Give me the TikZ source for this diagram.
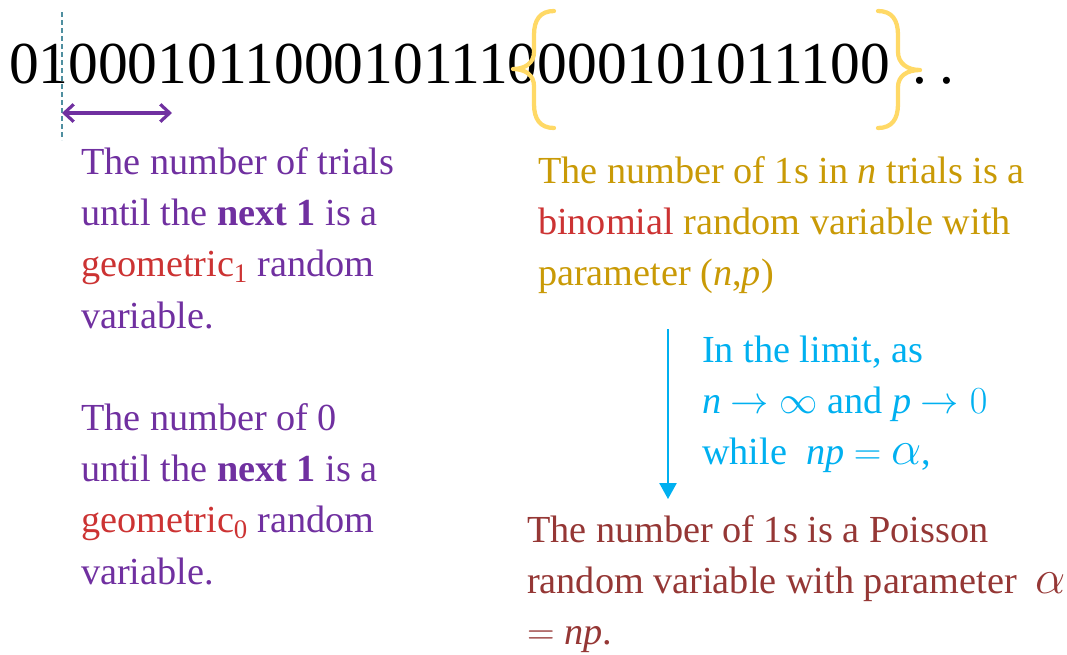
\RequirePackage{fix-cm}
\documentclass[tikz,border=0pt]{standalone}
\usepackage{fontspec}
\setmainfont{Liberation Serif}
\usetikzlibrary{arrows.meta}
\definecolor{cpurple}{HTML}{7030A0}
\definecolor{cred}{HTML}{CC3333}
\definecolor{cgold}{HTML}{C99A06}
\definecolor{ccyan}{HTML}{00B0F0}
\definecolor{cdred}{HTML}{953735}
\definecolor{cyellow}{HTML}{FFD966}
\definecolor{cteal}{HTML}{4F8FA0}
\newcommand\txtblock[1]{\parbox[t]{560pt}{\fontsize{28.7}{38.6}\selectfont\raggedright #1}}
\newcommand\bigalpha{{\fontsize{36}{40}\selectfont$\alpha$}}
\begin{document}
\begin{tikzpicture}[x=0.75pt,y=-0.75pt,
  txt/.style={anchor=base west, inner sep=0pt, outer sep=0pt},
  bracestyle/.style={draw=cyellow, line width=3.2pt, line cap=round, line join=round},
  guide/.style={draw=cteal, line width=0.9pt, dash pattern=on 3.5pt off 2.5pt}]
\useasboundingbox (0,0) rectangle (1067,654);
% binary string
\node[txt, font=\fontsize{44.6}{50}\selectfont] (bits) at (9,83) {010001011000101110000101011100};
\node[txt, font=\fontsize{44.6}{50}\selectfont] (dots) at (912,83) {.\kern 9.5pt.};
% dashed guide and interval arrow
\coordinate (gtop) at (62,12);
\coordinate (gbot) at (62,140);
\draw[guide] (gtop) -- (gbot);
\coordinate (aL) at (62,113);
\coordinate (aR) at (172,113);
\draw[cpurple, line width=2.6pt, {Straight Barb[length=7pt,width=13pt,line width=2.4pt]}-{Straight Barb[length=7pt,width=13pt,line width=2.4pt]}] (aL) -- (aR);
% braces
\path[bracestyle] (554,11) .. controls (540,11) and (534,20) .. (534,35) -- (534,52) .. controls (534,63) and (525,69) .. (513,69) .. controls (525,69) and (534,75) .. (534,86) -- (534,104) .. controls (534,119) and (540,128) .. (554,128);
\path[bracestyle] (878,11) .. controls (892,11) and (898,20) .. (898,35) -- (898,52) .. controls (898,63) and (907,70) .. (920,70) .. controls (907,70) and (898,76) .. (898,87) -- (898,104) .. controls (898,119) and (892,128) .. (878,128);
% left texts
\node[txt, text=cpurple] (geo1) at (81,174) {\txtblock{The number of trials\\
until the \textbf{next 1} is a\\
\textcolor{cred}{geometric\textsubscript{1}} random\\
variable.}};
\node[txt, text=cpurple] (geo0) at (81,430) {\txtblock{The number of 0\\
until the \textbf{next 1} is a\\
\textcolor{cred}{geometric\textsubscript{0}} random\\
variable.}};
% binomial
\node[txt, text=cgold] (binom) at (538,183) {\txtblock{The number of 1s in \textit{n} trials is a\\
\textcolor{cred}{binomial} random variable with\\
parameter (\textit{n},\textit{p})}};
% limit arrow
\coordinate (ltop) at (668,329);
\coordinate (lbot) at (668,499);
\draw[ccyan, line width=1.1pt, -{Triangle[length=12pt,width=13pt]}] (ltop) -- (lbot);
\node[txt, text=ccyan] (limit) at (702,362) {\txtblock{In the limit, as\\
\textit{n} $\rightarrow\infty$ and \textit{p} $\rightarrow 0$\\
while\ \ \textit{np} $=$ \bigalpha,}};
% poisson
\node[txt, text=cdred] (poisson) at (527,542) {\txtblock{The number of 1s is a Poisson\\
random variable with parameter \ \bigalpha\\
$=$ \textit{np}.}};
\end{tikzpicture}
\end{document}
